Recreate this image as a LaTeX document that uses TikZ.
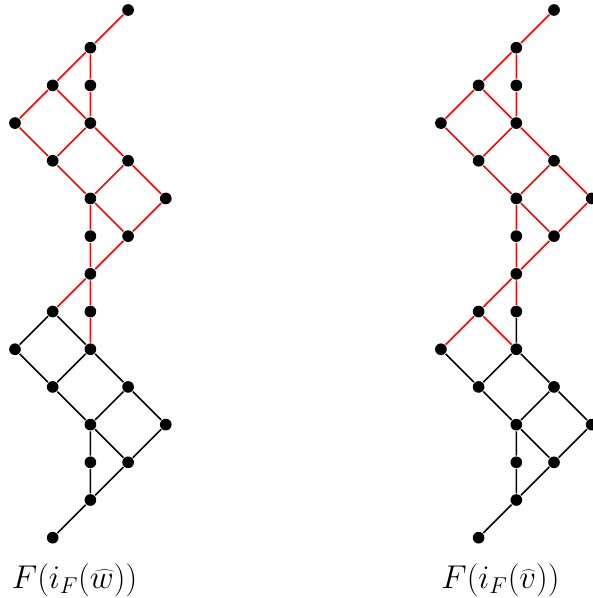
\documentclass[tikz,border=0pt]{standalone}
\usepackage{tikz}
\usetikzlibrary{positioning}
\colorlet{colorPath}{red}
\tikzset{dot/.style={circle, fill=black, inner sep=0pt, minimum size=0.31cm},
  lbl/.style={font=\fontsize{23}{28}\selectfont}}

\begin{document}
\begin{tikzpicture}[line width=1.2pt]
\useasboundingbox (-0.398,0.265) rectangle (15.33,-15.6);
% left lattice
\node[dot] (a0) at (3,0) {};
\node[dot] (a1) at (2,-1) {};
\node[dot] (a2) at (1,-2) {};
\node[dot] (a3) at (2,-2) {};
\node[dot] (a4) at (0,-3) {};
\node[dot] (a5) at (2,-3) {};
\node[dot] (a6) at (1,-4) {};
\node[dot] (a7) at (3,-4) {};
\node[dot] (a8) at (2,-5) {};
\node[dot] (a9) at (4,-5) {};
\node[dot] (a10) at (2,-6) {};
\node[dot] (a11) at (3,-6) {};
\node[dot] (a12) at (2,-7) {};
\node[dot] (a13) at (1,-8) {};
\node[dot] (a14) at (2,-8) {};
\node[dot] (a15) at (0,-9) {};
\node[dot] (a16) at (2,-9) {};
\node[dot] (a17) at (1,-10) {};
\node[dot] (a18) at (3,-10) {};
\node[dot] (a19) at (2,-11) {};
\node[dot] (a20) at (4,-11) {};
\node[dot] (a21) at (2,-12) {};
\node[dot] (a22) at (3,-12) {};
\node[dot] (a23) at (2,-13) {};
\node[dot] (a24) at (1,-14) {};
\node[lbl] (alabel) at (1.58,-15.12) {$F(i_F(\widehat{w}))$};
\draw[colorPath] (a0) -- (a1) -- (a2) -- (a4) -- (a6) -- (a8) -- (a11) -- (a12) -- (a13);
\draw[colorPath] (a1) -- (a3) -- (a5) -- (a7) -- (a9) -- (a11);
\draw[colorPath] (a2) -- (a5) -- (a6);
\draw[colorPath] (a7) -- (a8) -- (a10) -- (a12) -- (a14) -- (a16);
\draw (a13) -- (a15) -- (a17) -- (a19) -- (a22) -- (a23) -- (a24);
\draw (a13) -- (a16) -- (a17);
\draw (a16) -- (a18) -- (a20) -- (a22);
\draw (a18) -- (a19) -- (a21) -- (a23);
% right lattice
\begin{scope}[xshift=11.3cm]
\node[dot] (b0) at (3,0) {};
\node[dot] (b1) at (2,-1) {};
\node[dot] (b2) at (1,-2) {};
\node[dot] (b3) at (2,-2) {};
\node[dot] (b4) at (0,-3) {};
\node[dot] (b5) at (2,-3) {};
\node[dot] (b6) at (1,-4) {};
\node[dot] (b7) at (3,-4) {};
\node[dot] (b8) at (2,-5) {};
\node[dot] (b9) at (4,-5) {};
\node[dot] (b10) at (2,-6) {};
\node[dot] (b11) at (3,-6) {};
\node[dot] (b12) at (2,-7) {};
\node[dot] (b13) at (1,-8) {};
\node[dot] (b14) at (2,-8) {};
\node[dot] (b15) at (0,-9) {};
\node[dot] (b16) at (2,-9) {};
\node[dot] (b17) at (1,-10) {};
\node[dot] (b18) at (3,-10) {};
\node[dot] (b19) at (2,-11) {};
\node[dot] (b20) at (4,-11) {};
\node[dot] (b21) at (2,-12) {};
\node[dot] (b22) at (3,-12) {};
\node[dot] (b23) at (2,-13) {};
\node[dot] (b24) at (1,-14) {};
\node[lbl] (blabel) at (1.58,-15.12) {$F(i_F(\widehat{v}))$};
\draw[colorPath] (b0) -- (b1) -- (b2) -- (b4) -- (b6) -- (b8) -- (b11) -- (b12) -- (b13) -- (b15);
\draw[colorPath] (b1) -- (b3) -- (b5) -- (b7) -- (b9) -- (b11);
\draw[colorPath] (b2) -- (b5) -- (b6);
\draw[colorPath] (b7) -- (b8) -- (b10) -- (b12) -- (b14);
\draw[colorPath] (b13) -- (b16);
\draw (b14) -- (b16) -- (b17) -- (b19) -- (b22) -- (b23) -- (b24);
\draw (b15) -- (b17);
\draw (b16) -- (b18) -- (b20) -- (b22);
\draw (b18) -- (b19) -- (b21) -- (b23);
\end{scope}
\end{tikzpicture}
\end{document}
